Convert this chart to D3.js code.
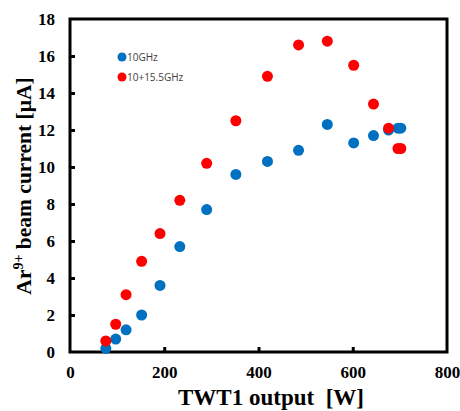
<!DOCTYPE html>
<html>
<head>
<meta charset="utf-8">
<script src="https://cdnjs.cloudflare.com/ajax/libs/d3/7.8.5/d3.min.js"></script>
<style>
  body { margin: 0; background: #fff; }
  svg { display: block; }
</style>
</head>
<body>
<script>
var width = 460,
    height = 411;

// TWT1 output [W] and beam current [uA]
var power10 = [76, 97, 119, 152, 191, 233, 290, 352, 419, 485, 546, 602, 644, 676, 696, 702];
var current10 = [0.2, 0.7, 1.2, 2.0, 3.6, 5.7, 7.7, 9.6, 10.3, 10.9, 12.3, 11.3, 11.7, 12.0, 12.1, 12.1];

var power2f = [76, 97, 119, 152, 191, 233, 290, 352, 419, 485, 546, 602, 644, 676, 696, 702];
var current2f = [0.6, 1.5, 3.1, 4.9, 6.4, 8.2, 10.2, 12.5, 14.9, 16.6, 16.8, 15.5, 13.4, 12.1, 11.0, 11.0];

var seriesNames = ["10GHz", "10+15.5GHz"];
var seriesColors = ["#0070C0", "#FF0000"];

var xTicks = [0, 200, 400, 600, 800];
var yTicks = [0, 2, 4, 6, 8, 10, 12, 14, 16, 18];

var margin = {top: 19, right: 13, bottom: 59, left: 70};
var w = width - margin.left - margin.right,
    h = height - margin.top - margin.bottom;

var svg = d3.select("body").append("svg")
    .attr("width", width)
    .attr("height", height);

var g = svg.append("g")
    .attr("transform", "translate(" + margin.left + "," + margin.top + ")");

var x = d3.scaleLinear().domain([0, 800]).range([0, w]);
var y = d3.scaleLinear().domain([0, 18]).range([h, 0]);

var serif = "'Liberation Serif', 'Times New Roman', serif";

// axes with inward ticks
var xAxis = g.append("g")
    .attr("transform", "translate(0," + h + ")")
    .call(d3.axisBottom(x).tickValues(xTicks).tickSize(-5).tickPadding(14));
var yAxis = g.append("g")
    .call(d3.axisLeft(y).tickValues(yTicks).tickSize(-5).tickPadding(15));

[xAxis, yAxis].forEach(function(a) {
  a.select(".domain").remove();
  a.selectAll(".tick line").attr("stroke", "#000").attr("stroke-width", 3);
  a.selectAll(".tick text")
    .attr("fill", "#000")
    .style("font-family", serif)
    .style("font-weight", "bold")
    .style("font-size", "17px");
});
// hide ticks at the frame corners
xAxis.selectAll(".tick line").filter(function(d) { return d == 0 || d == 800; }).remove();
yAxis.selectAll(".tick line").filter(function(d) { return d == 0 || d == 18; }).remove();

// frame
g.append("rect")
    .attr("x", 0).attr("y", 0)
    .attr("width", w).attr("height", h)
    .attr("fill", "none")
    .attr("stroke", "#000")
    .attr("stroke-width", 3);

// points
var series = [
  {name: seriesNames[0], color: seriesColors[0], xs: power10, ys: current10},
  {name: seriesNames[1], color: seriesColors[1], xs: power2f, ys: current2f}
];

series.forEach(function(s) {
  g.append("g").selectAll("circle")
      .data(d3.range(s.xs.length))
    .enter().append("circle")
      .attr("cx", function(i) { return x(s.xs[i]); })
      .attr("cy", function(i) { return y(s.ys[i]); })
      .attr("r", 5.5)
      .attr("fill", s.color);
});

// legend
var legend = g.append("g").attr("transform", "translate(52,38)");
series.forEach(function(s, i) {
  var row = legend.append("g").attr("transform", "translate(0," + (i * 20) + ")");
  row.append("circle").attr("r", 4.5).attr("fill", s.color);
  row.append("text")
      .attr("x", 5)
      .attr("dy", "0.35em")
      .attr("fill", "#404040")
      .style("font-family", "'Open Sans', sans-serif")
      .style("font-size", "10px")
      .text(s.name);
});

// axis titles
svg.append("text")
    .attr("x", 271)
    .attr("y", 405)
    .attr("text-anchor", "middle")
    .style("font-family", serif)
    .style("font-weight", "bold")
    .style("font-size", "23px")
    .style("white-space", "pre")
    .text("TWT1 output  [W]");

var yt = svg.append("text")
    .attr("transform", "translate(31,186) rotate(-90)")
    .attr("text-anchor", "middle")
    .style("font-family", serif)
    .style("font-weight", "bold")
    .style("font-size", "21.5px");
yt.append("tspan").text("Ar");
yt.append("tspan").attr("dy", -8).style("font-size", "14px").text("9+");
yt.append("tspan").attr("dy", 8).text(" beam current [\u03bcA]");
</script>
</body>
</html>
